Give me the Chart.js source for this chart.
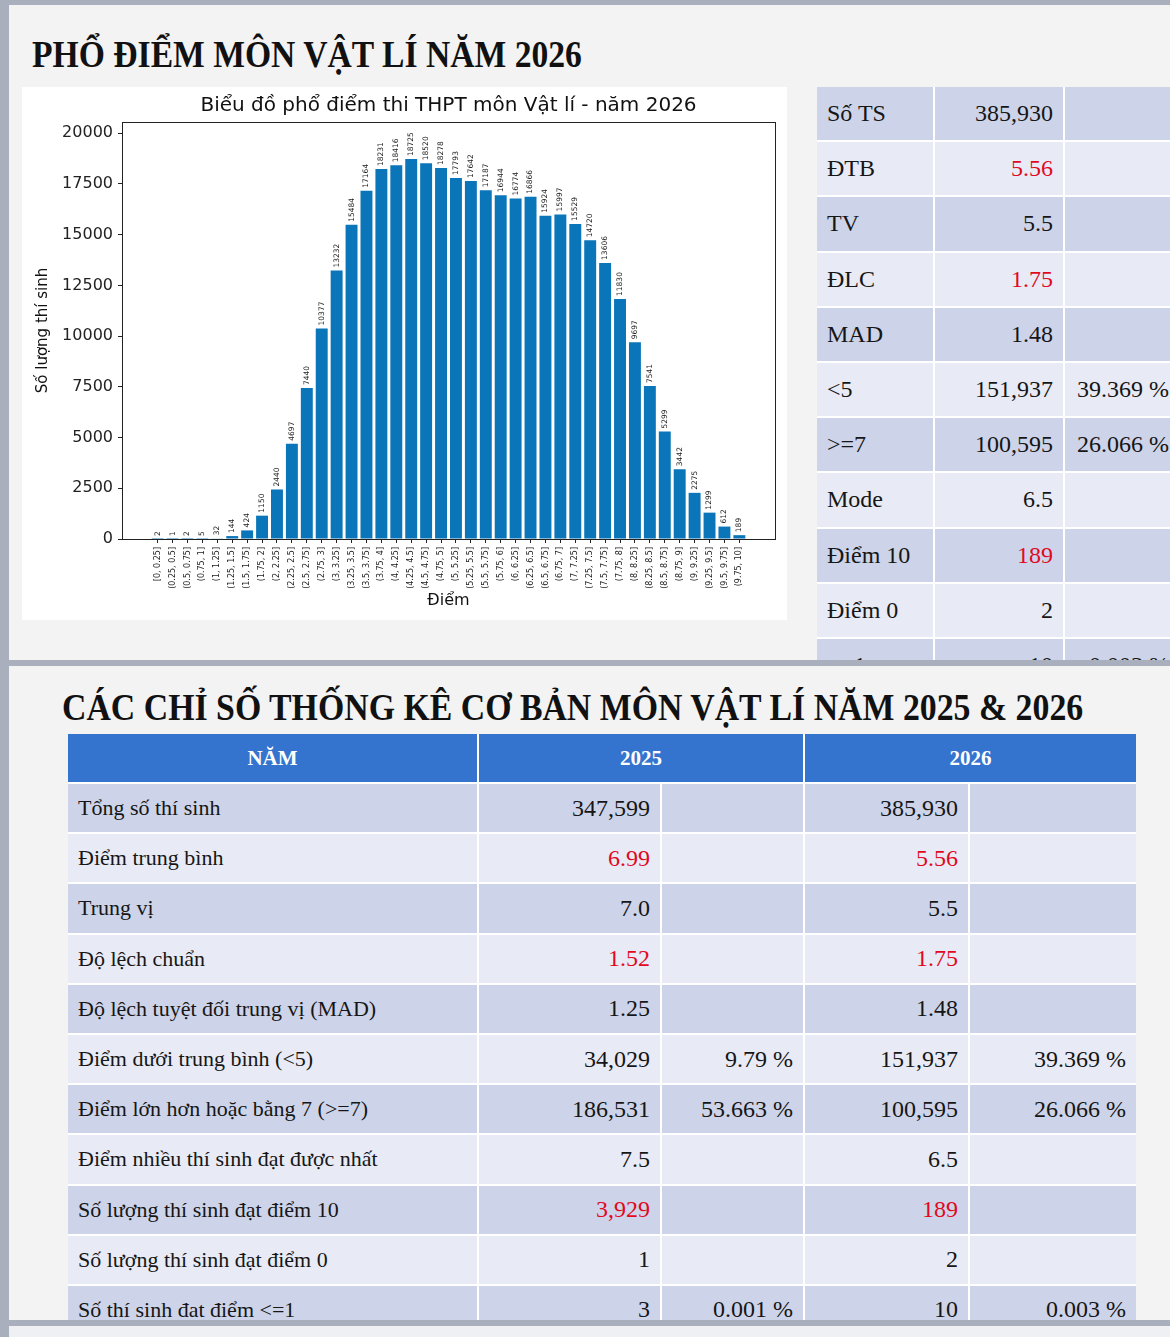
<!DOCTYPE html>
<html lang="vi">
<head>
<meta charset="utf-8">
<title>Phổ điểm môn Vật lí năm 2026</title>
<script src="https://cdn.jsdelivr.net/npm/chart.js@4.4.1/dist/chart.umd.min.js"></script>
<style>
  html, body { margin: 0; padding: 0; }
  body {
    position: relative;
    width: 1170px;
    height: 1337px;
    overflow: hidden;
    background: #f3f3f3;
    font-family: "Liberation Serif", "Times New Roman", serif;
    color: #161616;
  }
  .strip { position: absolute; background: #a9afbc; }
  .heading {
    position: absolute;
    margin: 0;
    font-size: 38px;
    font-weight: bold;
    line-height: 1;
    white-space: nowrap;
    transform: scaleX(0.885);
    transform-origin: left top;
    color: #111;
  }
  #chartBox {
    position: absolute;
    left: 22px; top: 87px;
    width: 765px; height: 533px;
    background: #fff;
  }
  #sideWrap {
    position: absolute;
    left: 817px; top: 87px;
    width: 353px; height: 573px;
    overflow: hidden;
  }
  #sideTable {
    display: grid;
    grid-template-columns: 116px 128px 114px;
    grid-auto-rows: 53.2px;
    gap: 2px;
    background: #fff;
    width: 362px;
    font-size: 24px;
  }
  #compareTable {
    position: absolute;
    left: 68px; top: 734px;
    display: grid;
    grid-template-columns: 409px 181px 141px 163px 166px;
    grid-template-rows: 48px;
    grid-auto-rows: 48.2px;
    gap: 2px;
    background: #fff;
    font-size: 24px;
  }
  .cell {
    display: flex;
    align-items: center;
    padding: 0 10px;
    white-space: nowrap;
    overflow: hidden;
  }
  .num { justify-content: flex-end; }
  .dark { background: #cdd4e9; }
  .light { background: #e8ebf5; }
  .red { color: #e2091f; }
  .label { font-size: 22px; }
  .head {
    background: #3474cf;
    color: #fff;
    font-weight: bold;
    font-size: 21px;
    justify-content: center;
  }
</style>
</head>
<body>

<div class="strip" style="left:0;top:0;width:1170px;height:5px"></div>
<div class="strip" style="left:0;top:0;width:9px;height:1337px"></div>

<h1 class="heading" style="left:32px;top:35px">PHỔ ĐIỂM MÔN VẬT LÍ NĂM 2026</h1>

<div id="chartBox"><canvas id="scoreChart"></canvas></div>

<div id="sideWrap"><div id="sideTable"></div></div>

<div class="strip" style="left:0;top:660px;width:1170px;height:6px"></div>

<h2 class="heading" style="left:62px;top:688px;transform:scaleX(0.89)">CÁC CHỈ SỐ THỐNG KÊ CƠ BẢN MÔN VẬT LÍ NĂM 2025 &amp; 2026</h2>

<div id="compareTable"></div>

<div class="strip" style="left:0;top:1320px;width:1170px;height:6px"></div>
<div style="position:absolute;left:9px;top:1326px;width:1161px;height:11px;background:#eef0f3"></div>

<script>
/* ================= DATA ================= */

const scoreBins = [
  "[0, 0.25]", "(0.25, 0.5]", "(0.5, 0.75]", "(0.75, 1]",
  "(1, 1.25]", "(1.25, 1.5]", "(1.5, 1.75]", "(1.75, 2]",
  "(2, 2.25]", "(2.25, 2.5]", "(2.5, 2.75]", "(2.75, 3]",
  "(3, 3.25]", "(3.25, 3.5]", "(3.5, 3.75]", "(3.75, 4]",
  "(4, 4.25]", "(4.25, 4.5]", "(4.5, 4.75]", "(4.75, 5]",
  "(5, 5.25]", "(5.25, 5.5]", "(5.5, 5.75]", "(5.75, 6]",
  "(6, 6.25]", "(6.25, 6.5]", "(6.5, 6.75]", "(6.75, 7]",
  "(7, 7.25]", "(7.25, 7.5]", "(7.5, 7.75]", "(7.75, 8]",
  "(8, 8.25]", "(8.25, 8.5]", "(8.5, 8.75]", "(8.75, 9]",
  "(9, 9.25]", "(9.25, 9.5]", "(9.5, 9.75]", "(9.75, 10]"
];

const candidateCounts = [
  2, 1, 2, 5, 32, 144, 424, 1150, 2440, 4697,
  7440, 10377, 13232, 15484, 17164, 18231, 18416, 18725, 18520, 18278,
  17793, 17642, 17187, 16944, 16774, 16866, 15924, 15997, 15529, 14720,
  13606, 11830, 9697, 7541, 5299, 3442, 2275, 1299, 612, 189
];

const yTickValues = [0, 2500, 5000, 7500, 10000, 12500, 15000, 17500, 20000];

/* side table (2026 only) */
const sideLabels = ["Số TS", "ĐTB", "TV", "ĐLC", "MAD", "<5", ">=7", "Mode", "Điểm 10", "Điểm 0", "<=1"];
const sideValues = ["385,930", "5.56", "5.5", "1.75", "1.48", "151,937", "100,595", "6.5", "189", "2", "10"];
const sidePercents = ["", "", "", "", "", "39.369 %", "26.066 %", "", "", "", "0.003 %"];
const sideRed = [1, 3, 8];

/* comparison table 2025 & 2026 */
const compareHeader = ["NĂM", "2025", "2026"];
const compareLabels = [
  "Tổng số thí sinh",
  "Điểm trung bình",
  "Trung vị",
  "Độ lệch chuẩn",
  "Độ lệch tuyệt đối trung vị (MAD)",
  "Điểm dưới trung bình (<5)",
  "Điểm lớn hơn hoặc bằng 7 (>=7)",
  "Điểm nhiều thí sinh đạt được nhất",
  "Số lượng thí sinh đạt điểm 10",
  "Số lượng thí sinh đạt điểm 0",
  "Số thí sinh đat điểm <=1"
];
const values2025 = ["347,599", "6.99", "7.0", "1.52", "1.25", "34,029", "186,531", "7.5", "3,929", "1", "3"];
const percents2025 = ["", "", "", "", "", "9.79 %", "53.663 %", "", "", "", "0.001 %"];
const values2026 = ["385,930", "5.56", "5.5", "1.75", "1.48", "151,937", "100,595", "6.5", "189", "2", "10"];
const percents2026 = ["", "", "", "", "", "39.369 %", "26.066 %", "", "", "", "0.003 %"];
const compareRed = [1, 3, 8];

/* ================= TABLES ================= */

function addCell(parent, text, cls) {
  const div = document.createElement("div");
  div.className = "cell " + cls;
  div.textContent = text;
  parent.appendChild(div);
  return div;
}

const sideTable = document.getElementById("sideTable");
sideLabels.forEach((label, i) => {
  const shade = i % 2 === 0 ? "dark" : "light";
  const red = sideRed.includes(i) ? " red" : "";
  addCell(sideTable, label, shade);
  addCell(sideTable, sideValues[i], "num " + shade + red);
  addCell(sideTable, sidePercents[i], "num " + shade);
});

const compareTable = document.getElementById("compareTable");
addCell(compareTable, compareHeader[0], "head");
addCell(compareTable, compareHeader[1], "head").style.gridColumn = "span 2";
addCell(compareTable, compareHeader[2], "head").style.gridColumn = "span 2";
compareLabels.forEach((label, i) => {
  const shade = i % 2 === 0 ? "dark" : "light";
  const red = compareRed.includes(i) ? " red" : "";
  addCell(compareTable, label, "label " + shade);
  addCell(compareTable, values2025[i], "num " + shade + red);
  addCell(compareTable, percents2025[i], "num " + shade);
  addCell(compareTable, values2026[i], "num " + shade + red);
  addCell(compareTable, percents2026[i], "num " + shade);
});

/* ================= CHART ================= */

const chartFont = '"DejaVu Sans", sans-serif';
const axisColor = "#222";

// value written vertically above every bar
const barValueLabels = {
  id: "barValueLabels",
  afterDatasetsDraw(chart) {
    const { ctx } = chart;
    const meta = chart.getDatasetMeta(0);
    ctx.save();
    ctx.font = "7.5px " + chartFont;
    ctx.fillStyle = "#222";
    ctx.textAlign = "left";
    ctx.textBaseline = "middle";
    meta.data.forEach((bar, i) => {
      ctx.save();
      ctx.translate(bar.x, bar.y - 3);
      ctx.rotate(-Math.PI / 2);
      ctx.fillText(String(candidateCounts[i]), 0, 0);
      ctx.restore();
    });
    ctx.restore();
  }
};

// matplotlib style box round the plot
const plotFrame = {
  id: "plotFrame",
  afterDraw(chart) {
    const { ctx, chartArea: a } = chart;
    ctx.save();
    ctx.strokeStyle = axisColor;
    ctx.lineWidth = 1;
    ctx.strokeRect(Math.round(a.left) + 0.5, Math.round(a.top) + 0.5,
      Math.round(a.right - a.left), Math.round(a.bottom - a.top));
    ctx.restore();
  }
};

new Chart(document.getElementById("scoreChart"), {
  type: "bar",
  data: {
    datasets: [{
      label: "Số lượng thí sinh",
      data: candidateCounts.map((v, i) => ({ x: i, y: v })),
      backgroundColor: "#0a75b9",
      barPercentage: 0.8,
      categoryPercentage: 1
    }]
  },
  options: {
    responsive: true,
    maintainAspectRatio: false,
    animation: false,
    layout: { padding: { left: 0, right: 12, top: 0, bottom: 0 } },
    plugins: {
      legend: { display: false },
      tooltip: { enabled: false },
      title: {
        display: true,
        fullSize: false,
        text: "Biểu đồ phổ điểm thi THPT môn Vật lí - năm 2026",
        color: "#111",
        font: { family: chartFont, size: 20, weight: "normal" },
        padding: { top: 7, bottom: 4 }
      }
    },
    scales: {
      x: {
        type: "linear",
        offset: false,
        min: -2.39,
        max: 41.39,
        afterBuildTicks: s => { s.ticks = scoreBins.map((_, i) => ({ value: i })); },
        afterFit: s => { s.height = 81; },
        ticks: {
          autoSkip: false,
          maxRotation: 90,
          minRotation: 90,
          padding: 4,
          color: "#222",
          font: { family: chartFont, size: 8 },
          callback: v => scoreBins[v]
        },
        grid: { offset: false, drawOnChartArea: false, tickLength: 4, color: axisColor },
        border: { color: axisColor },
        title: {
          display: true,
          text: "Điểm",
          color: "#111",
          font: { family: chartFont, size: 16 },
          padding: { top: 0, bottom: 10 }
        }
      },
      y: {
        min: 0,
        max: 20550,
        afterBuildTicks: s => { s.ticks = yTickValues.map(v => ({ value: v })); },
        afterFit: s => { s.width = 100; },
        ticks: {
          padding: 5,
          color: "#222",
          font: { family: chartFont, size: 16 },
          callback: v => String(v)
        },
        grid: { drawOnChartArea: false, tickLength: 4, color: axisColor },
        border: { color: axisColor },
        title: {
          display: true,
          text: "Số lượng thí sinh",
          color: "#111",
          font: { family: chartFont, size: 15 },
          padding: { top: 12, bottom: 0 }
        }
      }
    }
  },
  plugins: [barValueLabels, plotFrame]
});
</script>
</body>
</html>
